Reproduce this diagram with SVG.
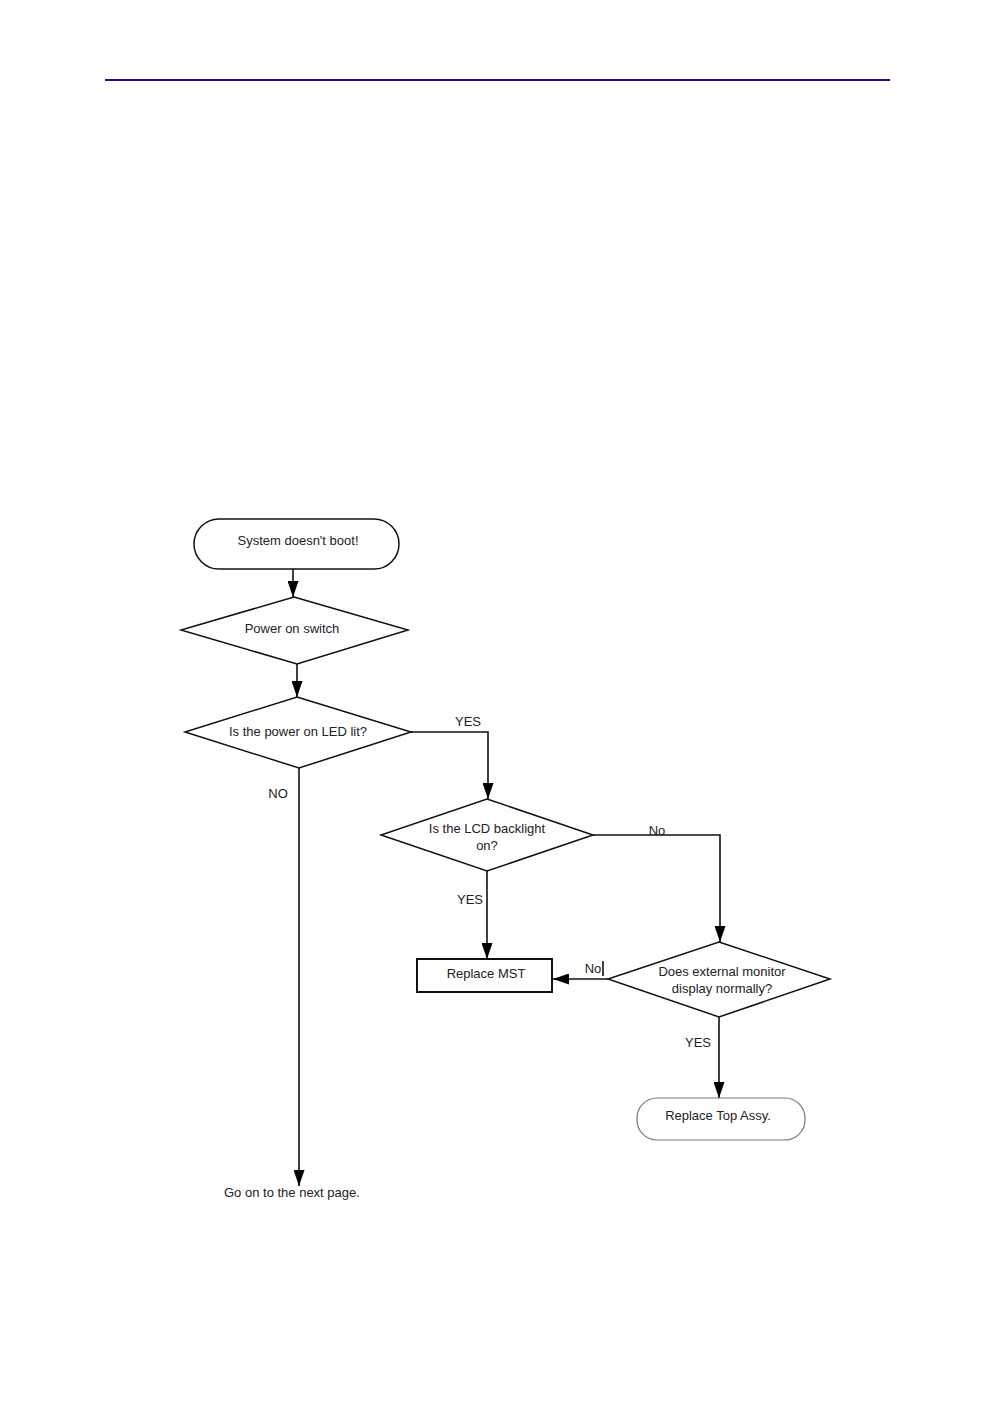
<svg xmlns="http://www.w3.org/2000/svg" width="998" height="1418" viewBox="0 0 998 1418">
<style>
.t{font-family:"Liberation Sans",Arial,sans-serif;font-size:13px;fill:#222;text-anchor:middle}
.tl{font-family:"Liberation Sans",Arial,sans-serif;font-size:13px;fill:#222}
.s{fill:#fff;stroke:#111;stroke-width:1.5}
.c{fill:none;stroke:#111;stroke-width:1.6}
</style>
<defs>
<marker id="ah" markerWidth="16" markerHeight="11" refX="16" refY="5.5" viewBox="0 0 16 11" markerUnits="userSpaceOnUse" orient="auto">
<path d="M0,0 L16,5.5 L0,11 Z" fill="#000"/>
</marker>
</defs>
<rect x="105" y="79" width="785" height="2" fill="#1212a0"/>
<g id="connectors">
<line class="c" x1="293" y1="569" x2="293" y2="597" marker-end="url(#ah)"/>
<line class="c" x1="297" y1="664" x2="297" y2="697" marker-end="url(#ah)"/>
<polyline class="c" points="410,732 488,732 488,799" marker-end="url(#ah)"/>
<polyline class="c" points="593,835 720,835 720,942" marker-end="url(#ah)"/>
<line class="c" x1="487" y1="871" x2="487" y2="959" marker-end="url(#ah)"/>
<line class="c" x1="608" y1="979" x2="553" y2="979" marker-end="url(#ah)"/>
<line class="c" x1="603" y1="961" x2="603" y2="976" stroke-width="1"/>
<line class="c" x1="719" y1="1017" x2="719" y2="1098" stroke-width="2" marker-end="url(#ah)"/>
<line class="c" x1="299" y1="768" x2="299" y2="1186" marker-end="url(#ah)"/>
<text class="t" x="468" y="726">YES</text>
<text class="t" x="657" y="835">No</text>
<text class="t" x="470" y="904">YES</text>
<text class="t" x="593" y="973">No</text>
<text class="t" x="698" y="1047">YES</text>
<text class="t" x="278" y="798">NO</text>
</g>
<g id="start">
<rect class="s" x="194" y="519" width="205" height="50" rx="25" ry="25"/>
<text class="t" x="298" y="545">System doesn't boot!</text>
</g>
<g id="power-switch">
<polygon class="s" points="294,597 408,630 297,664 181,630"/>
<text class="t" x="292" y="633">Power on switch</text>
</g>
<g id="led-lit">
<polygon class="s" points="297,697 411,732 299,768 185,732"/>
<text class="t" x="298" y="736">Is the power on LED lit?</text>
</g>
<g id="lcd-backlight">
<polygon class="s" points="487,799 593,835 487,871 381,835"/>
<text class="t" x="487" y="833">Is the LCD backlight</text>
<text class="t" x="487" y="850">on?</text>
</g>
<g id="replace-mst">
<rect x="417" y="959" width="135" height="33" fill="#fff" stroke="#111" stroke-width="2"/>
<text class="t" x="486" y="978">Replace MST</text>
</g>
<g id="external-monitor">
<polygon class="s" points="719,942 830,979 719,1017 608,979"/>
<text class="t" x="722" y="976">Does external monitor</text>
<text class="t" x="722" y="993">display normally?</text>
</g>
<g id="replace-top">
<rect x="637" y="1098" width="168" height="42" rx="20" ry="20" fill="#fff" stroke="#777" stroke-width="1.2"/>
<text class="t" x="718" y="1120">Replace Top Assy.</text>
</g>
<g id="next-page">
<text class="tl" x="224" y="1197">Go on to the next page.</text>
</g>
</svg>
